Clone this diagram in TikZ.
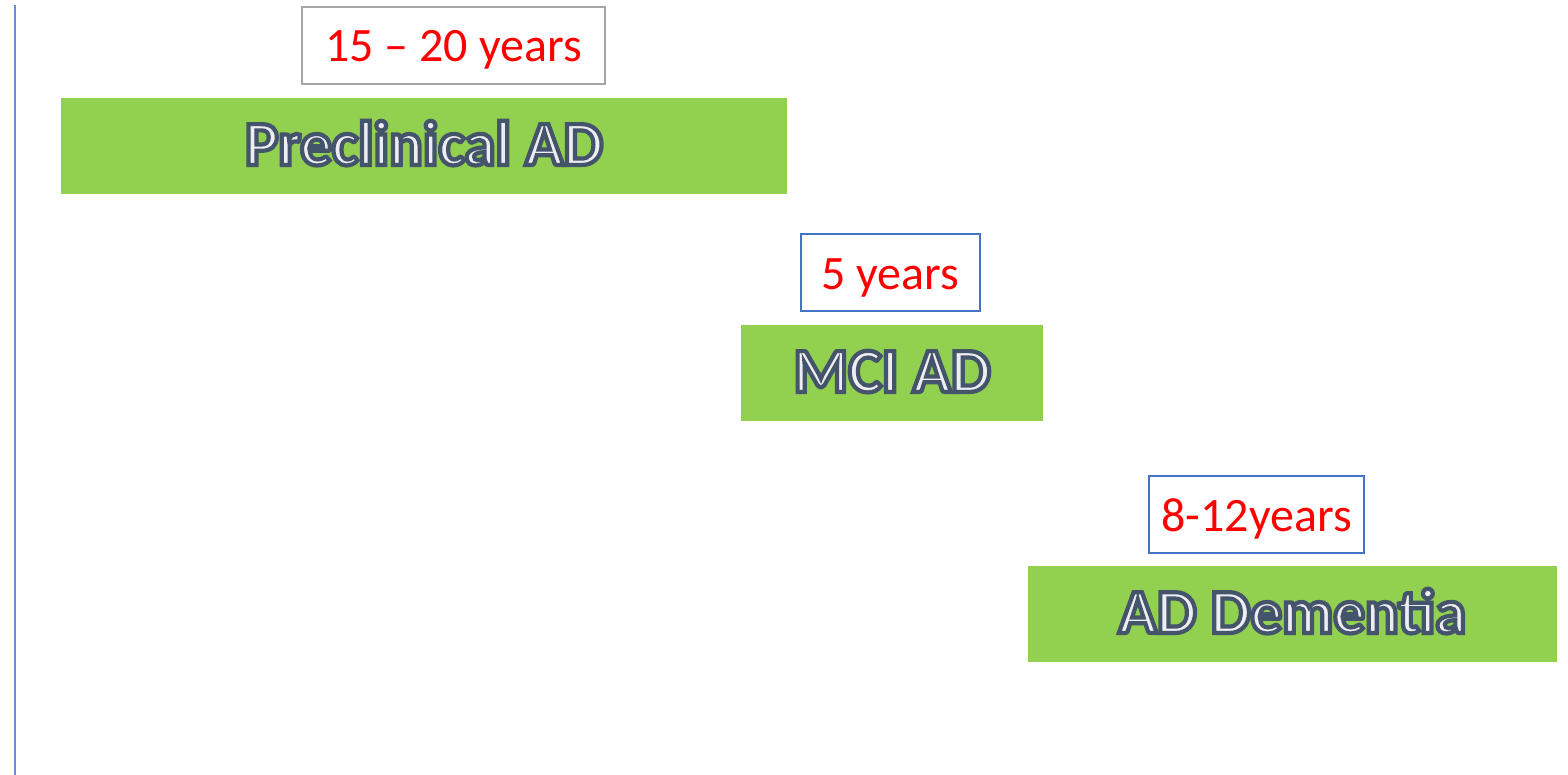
\documentclass[tikz,border=0pt]{standalone}
\usepackage{fontspec}
\setmainfont{Carlito}
\definecolor{stagegreen}{HTML}{92D050}
\definecolor{boxblue}{HTML}{4472C4}
\definecolor{boxgray}{HTML}{A5A5A5}
\definecolor{axisblue}{HTML}{6A8FD0}
\definecolor{letterfill}{HTML}{EDEDF3}
% outlined letters: fill, then stroke with the given RGB
\newcommand{\outlined}[2]{\special{pdf:code 2 Tr 2.1 w #1 RG}#2\special{pdf:code 0 Tr}}
\newcommand{\stagetext}[1]{\textcolor{letterfill}{\outlined{0.267 0.329 0.416}{#1}}}
\tikzset{
  stage/.style={fill=stagegreen, inner sep=0pt, minimum height=48pt,
    text height=25pt, text depth=6pt, font=\fontsize{31.5}{37}\selectfont\bfseries},
  span/.style={draw=boxblue, line width=1pt, fill=white, inner sep=0pt,
    minimum height=38.5pt, text height=22pt, text depth=5.5pt,
    text=red, font=\fontsize{24}{29}\selectfont}
}
\begin{document}
\begin{tikzpicture}[x=0.5pt,y=-0.5pt]
\useasboundingbox (0,0) rectangle (1568,775);
\coordinate (top) at (15,5);
\coordinate (bot) at (15,775);
\draw [axisblue, line width=1pt] (top) -- (bot);
% stages
\node [stage, minimum width=363pt] (pre) at (424,146) {\stagetext{Preclinical AD}};
\node [stage, minimum width=151pt] (mci) at (892,373) {\stagetext{MCI AD}};
\node [stage, minimum width=264.5pt] (dem) at (1292.5,614) {\stagetext{AD Dementia}};
% durations
\node [span, draw=boxgray, minimum width=151.5pt] (tpre) at (453.5,45.5) {15 -- 20 years};
\node [span, minimum width=89.5pt] (tmci) at (890.5,272.5) {5 years};
\node [span, minimum width=107.5pt] (tdem) at (1256.5,514.5) {8-12years};
\end{tikzpicture}
\end{document}
